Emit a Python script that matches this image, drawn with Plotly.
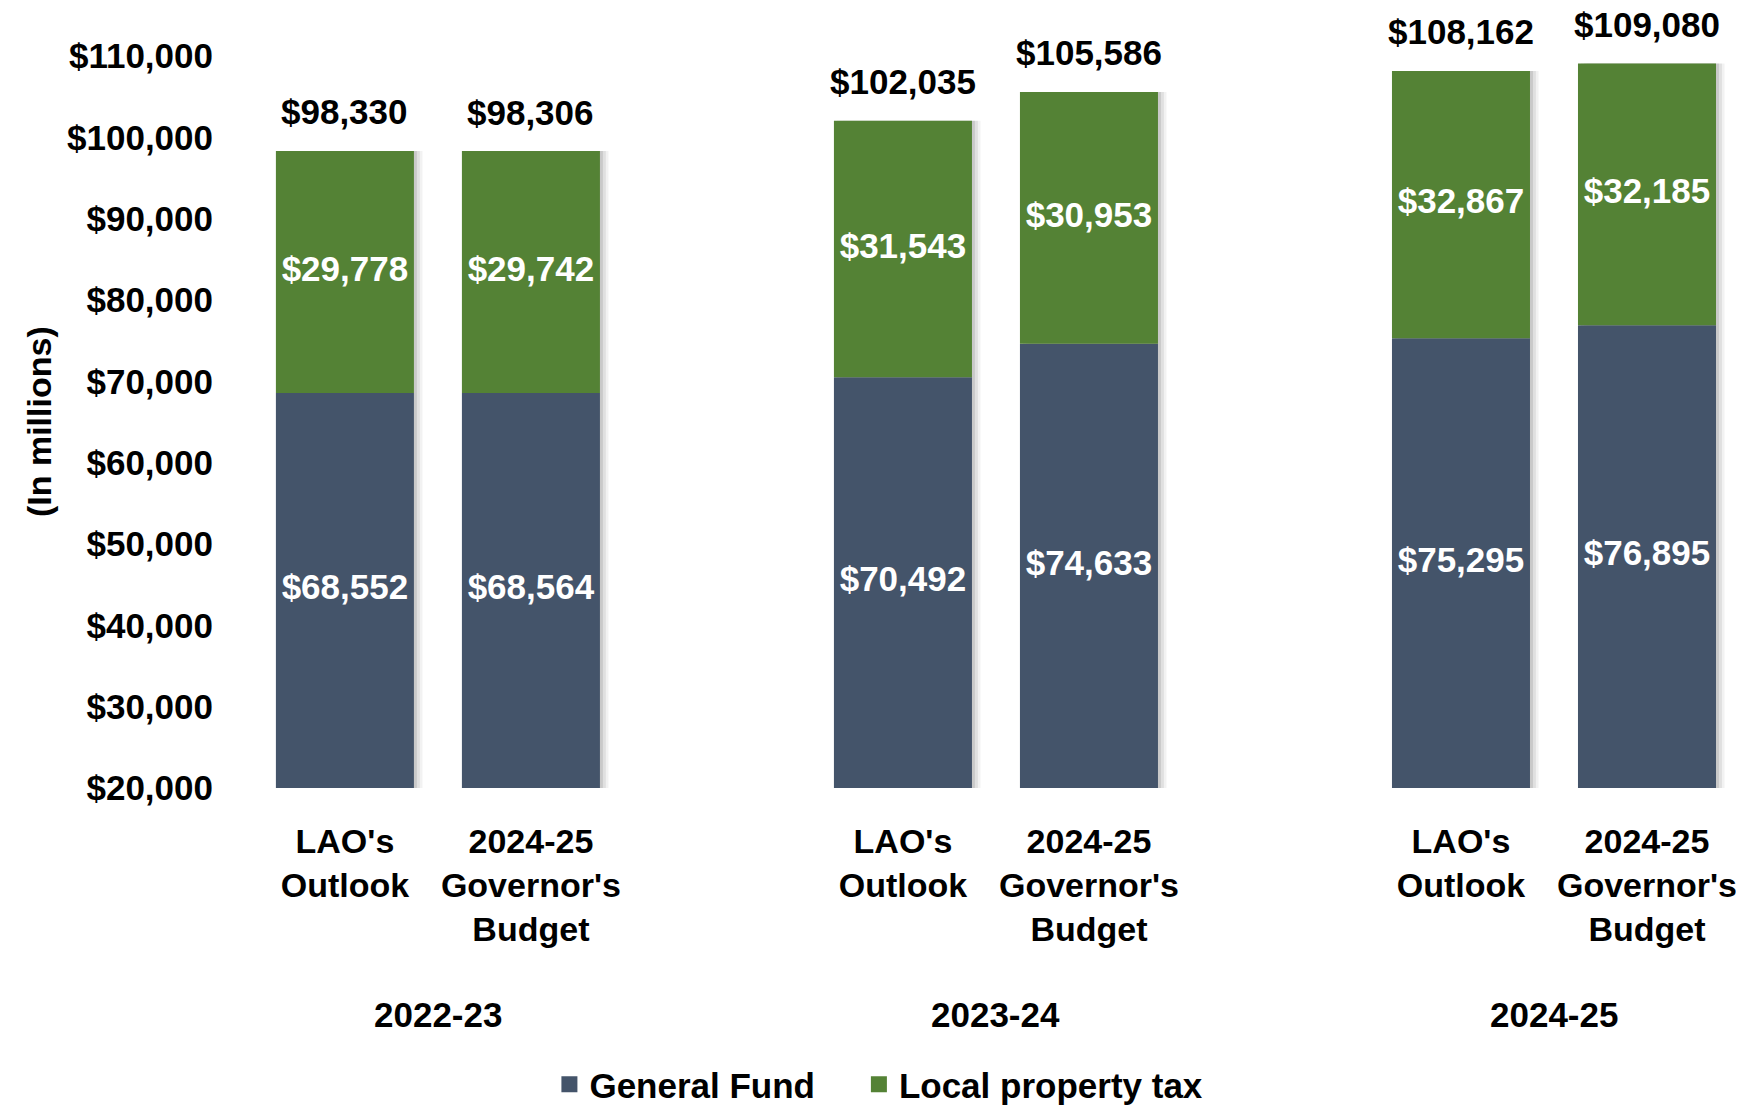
import plotly.graph_objects as go

# ---- data ----
bar_labels = ["LAO's<br>Outlook", "2024-25<br>Governor's<br>Budget"] * 3
years = ["2022-23", "2023-24", "2024-25"]
general_fund = [68552, 68564, 70492, 74633, 75295, 76895]
local_property_tax = [29778, 29742, 31543, 30953, 32867, 32185]
totals = [98330, 98306, 102035, 105586, 108162, 109080]
y_tick_vals = [20000, 30000, 40000, 50000, 60000, 70000, 80000, 90000, 100000, 110000]
legend_names = ["General Fund\u00a0\u00a0\u00a0\u00a0", "Local property tax"]

# numeric slots: two bars per year, one empty slot between years
xpos = [0, 1, 3, 4, 6, 7]
year_centers = [0.5, 3.5, 6.5]

FONT = "Liberation Sans, Arial, sans-serif"
GF_COLOR = "#44546A"
LPT_COLOR = "#548235"
AXIS_MIN = 20000
BAR_W = 0.742
FS = 35

fmt = lambda v: "${:,}".format(v)

fig = go.Figure()

# soft shadow on the right of each bar
for shift, alpha in [(0.016, 0.10), (0.032, 0.07), (0.046, 0.05)]:
    fig.add_trace(go.Bar(x=xpos, y=totals, width=BAR_W, offset=-BAR_W / 2 + shift,
                         marker=dict(color="rgba(0,0,0,%s)" % alpha, line=dict(width=0)),
                         showlegend=False, hoverinfo="skip"))

fig.add_trace(go.Bar(x=xpos, y=general_fund, name="General Fund",
                     marker=dict(color=GF_COLOR, line=dict(width=0)), width=BAR_W,
                     showlegend=False))
fig.add_trace(go.Bar(x=xpos, y=local_property_tax, base=general_fund, name="Local property tax",
                     marker=dict(color=LPT_COLOR, line=dict(width=0)), width=BAR_W,
                     showlegend=False))

# legend entries (bigger square symbols)
for nm, col in zip(legend_names, [GF_COLOR, LPT_COLOR]):
    fig.add_trace(go.Scatter(x=[None], y=[None], mode="markers", name=nm,
                             marker=dict(symbol="square", size=16, color=col)))

# segment labels centred in visible part of each segment
gf_mid = [(AXIS_MIN + g) / 2 for g in general_fund]
lpt_mid = [g + l / 2 for g, l in zip(general_fund, local_property_tax)]
fig.add_trace(go.Scatter(x=xpos, y=gf_mid, mode="text", text=[fmt(v) for v in general_fund],
                         textfont=dict(family=FONT, size=FS, color="white", weight="bold"),
                         showlegend=False, hoverinfo="skip", cliponaxis=False))
fig.add_trace(go.Scatter(x=xpos, y=lpt_mid, mode="text", text=[fmt(v) for v in local_property_tax],
                         textfont=dict(family=FONT, size=FS, color="white", weight="bold"),
                         showlegend=False, hoverinfo="skip", cliponaxis=False))

for xv, tv in zip(xpos, totals):
    fig.add_annotation(x=xv, y=tv, xref="x", yref="y", text="<b>%s</b>" % fmt(tv),
                       showarrow=False, yanchor="middle", yshift=39, borderpad=0,
                       font=dict(family=FONT, size=FS, color="black"))

for xc, yr in zip(year_centers, years):
    fig.add_annotation(x=xc, xref="x", y=-0.31, yref="paper", text="<b>%s</b>" % yr,
                       showarrow=False, font=dict(family=FONT, size=FS, color="black"),
                       yanchor="middle")

fig.add_annotation(x=-0.122, xref="paper", xanchor="center", y=0.5, yref="paper",
                   text="<b>(In millions)</b>", textangle=-90, showarrow=False,
                   font=dict(family=FONT, size=34, color="black"))

fig.update_layout(
    barmode="overlay",
    width=1744, height=1106,
    margin=dict(l=216, r=12, t=48, b=326, autoexpand=False),
    plot_bgcolor="white", paper_bgcolor="white",
    font=dict(family=FONT, size=FS, color="black", weight="bold"),
    showlegend=True,
    legend=dict(orientation="h", x=0.432, xanchor="center", y=-0.405, yanchor="middle",
                font=dict(family=FONT, size=FS, color="black", weight="bold"),
                traceorder="normal", itemwidth=30),
    xaxis=dict(range=[-0.65, 7.5], tickvals=xpos, ticktext=bar_labels,
               showgrid=False, zeroline=False, showline=False, ticks="",
               automargin=False, ticklabelstandoff=30,
               tickfont=dict(family=FONT, size=34, color="black", weight="bold")),
    yaxis=dict(range=[AXIS_MIN, 110000], tickvals=y_tick_vals,
               ticktext=[fmt(v) for v in y_tick_vals],
               showgrid=False, zeroline=False, showline=False, ticks="",
               automargin=False, ticklabelstandoff=10,
               tickfont=dict(family=FONT, size=FS, color="black", weight="bold")),
)

fig.write_html("out.html")
